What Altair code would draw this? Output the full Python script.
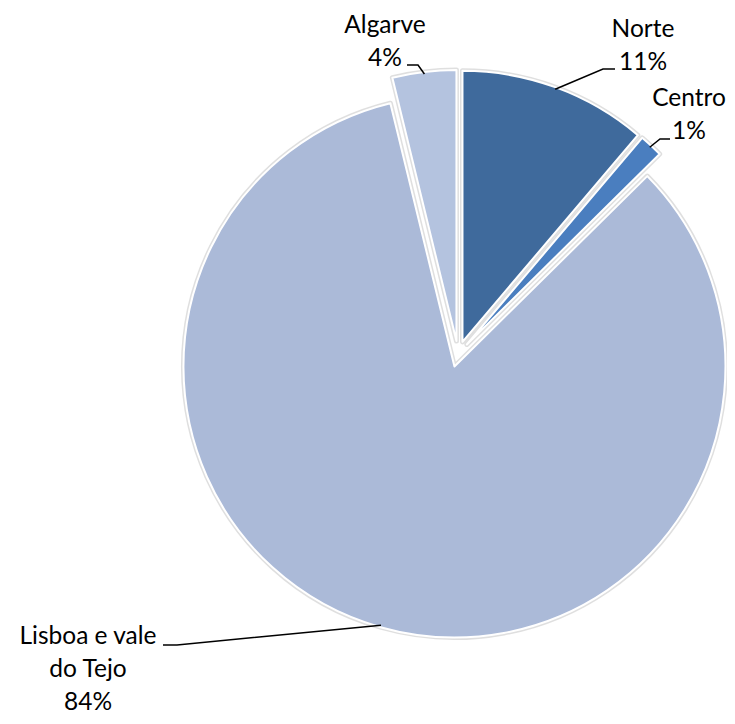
import altair as alt
import pandas as pd
import numpy as np

# ---- data ----
regions = ["Norte", "Centro", "Lisboa e vale do Tejo", "Algarve"]
values = [11.2, 1.4, 83.6, 3.8]
label_lines = [["Norte"], ["Centro"], ["Lisboa e vale", "do Tejo"], ["Algarve"]]
colors = ["#3F6A9C", "#4A7EBF", "#ABBAD8", "#B4C3DF"]

# ---- layout (page pixels) ----
M = 8                      # page margin
CX, CY = 458, 354          # pie centre
EXPLODE = 13               # explosion distance
R = 271                    # radius
LINE_H = 33
label_pos = {              # centre x, first line centre y
    "Norte": (643, 30),
    "Centro": (689, 99),
    "Lisboa e vale do Tejo": (88, 637),
    "Algarve": (385, 26),
}
leader_elbow = {
    "Norte": (603, 69),
    "Centro": (660, 139),
    "Lisboa e vale do Tejo": (177, 645),
    "Algarve": (418, 65),
}
leader_end = {
    "Norte": (615, 69),
    "Centro": (670, 139),
    "Lisboa e vale do Tejo": (163, 645),
    "Algarve": (407, 65),
}

vals = np.array(values, dtype=float)
total = vals.sum()
cum_end = np.cumsum(vals)
cum_start = cum_end - vals
mid = 2 * np.pi * (cum_start + vals / 2) / total

slices = pd.DataFrame({
    "region": regions,
    "value": values,
    "t0": cum_start,
    "t1": cum_end,
    "px": CX - M + EXPLODE * np.sin(mid),
    "py": CY - M - EXPLODE * np.cos(mid),
})

# leader lines
rows = []
for i, r in enumerate(regions):
    sx = slices.px[i] + (R - 2) * np.sin(mid[i])
    sy = slices.py[i] - (R - 2) * np.cos(mid[i])
    ex, ey = leader_elbow[r]
    nx, ny = leader_end[r]
    rows += [
        {"region": r, "k": 0, "x": sx, "y": sy},
        {"region": r, "k": 1, "x": ex - M, "y": ey - M},
        {"region": r, "k": 2, "x": nx - M, "y": ny - M},
    ]
leaders = pd.DataFrame(rows)

# text labels
trows = []
for i, r in enumerate(regions):
    lines = label_lines[i] + [f"{round(values[i] / total * 100):.0f}%"]
    lx, ly = label_pos[r]
    for j, t in enumerate(lines):
        trows.append({"region": r, "text": t, "x": lx - M, "y": ly - M + j * LINE_H})
texts = pd.DataFrame(trows)

xs = alt.X("px:Q", scale=None, axis=None)
ys = alt.Y("py:Q", scale=None, axis=None)
theta_scale = alt.Scale(domain=[0, total], range=[0, 2 * np.pi])
color = alt.Color("region:N", scale=alt.Scale(domain=regions, range=colors), legend=None)

shadow = alt.Chart(slices).mark_arc(
    outerRadius=R, stroke="#b8b8b8", strokeWidth=5, strokeOpacity=0.45, strokeJoin="round"
).encode(
    theta=alt.Theta("t0:Q", scale=theta_scale), theta2="t1:Q", x=xs, y=ys, color=color
)

arcs = alt.Chart(slices).mark_arc(
    outerRadius=R, stroke="white", strokeWidth=2, strokeJoin="round"
).encode(
    theta=alt.Theta("t0:Q", scale=theta_scale), theta2="t1:Q", x=xs, y=ys, color=color
)

lines = alt.Chart(leaders).mark_line(color="black", strokeWidth=1.5).encode(
    x=alt.X("x:Q", scale=None, axis=None),
    y=alt.Y("y:Q", scale=None, axis=None),
    detail="region:N",
    order="k:Q",
)

labels = alt.Chart(texts).mark_text(
    font="Lato", fontSize=24.5, color="black", align="center", baseline="middle"
).encode(
    x=alt.X("x:Q", scale=None, axis=None),
    y=alt.Y("y:Q", scale=None, axis=None),
    text="text:N",
)

chart = (shadow + arcs + lines + labels).properties(
    width=719, height=708, autosize=alt.AutoSizeParams(type="none"), padding=0
).configure_view(stroke=None)

chart.save("out.html", embed_options={"renderer": "svg", "actions": False})
